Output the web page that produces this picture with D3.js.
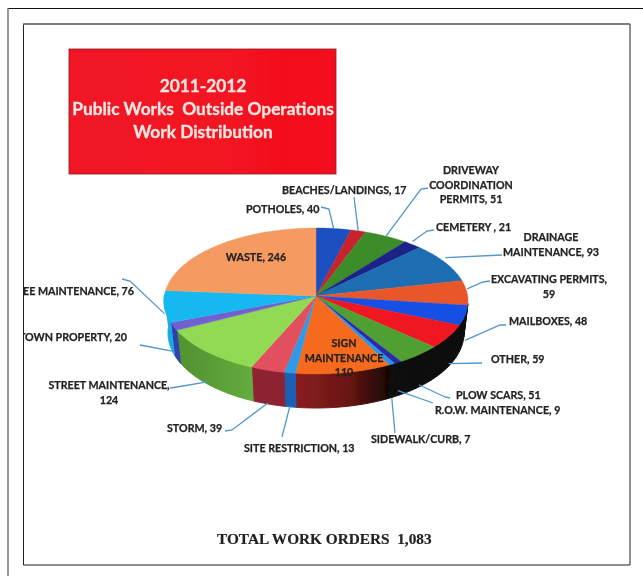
<!DOCTYPE html>
<html>
<head>
<meta charset="utf-8">
<script src="https://cdn.jsdelivr.net/npm/d3@7"></script>
<style>
  html, body { margin: 0; padding: 0; background: #fff; }
  svg { display: block; }
  .lbl { font-family: Lato, "Open Sans", sans-serif; font-weight: 700; font-size: 10.7px; fill: #222; stroke: #222; stroke-width: 0.25px; }
  .title { font-family: Lato, "Open Sans", sans-serif; font-weight: 700; font-size: 17.3px; fill: #f7e6e0; stroke: #f7e6e0; stroke-width: 0.3px; text-anchor: middle; }
  .total { font-family: "Liberation Serif", serif; font-weight: 700; font-size: 15.3px; fill: #222; stroke: #222; stroke-width: 0.2px; }
</style>
</head>
<body>
<script>
// Chart data
var categories = ["POTHOLES", "BEACHES/LANDINGS", "DRIVEWAY COORDINATION PERMITS", "CEMETERY",
  "DRAINAGE MAINTENANCE", "EXCAVATING PERMITS", "MAILBOXES", "OTHER", "PLOW SCARS", "R.O.W. MAINTENANCE",
  "SIDEWALK/CURB", "SIGN MAINTENANCE", "SITE RESTRICTION", "STORM", "STREET MAINTENANCE", "TOWN PROPERTY",
  "TREE MAINTENANCE", "WASTE"];
var workOrders = [40, 17, 51, 21, 93, 59, 48, 59, 51, 9, 7, 110, 13, 39, 124, 20, 76, 246];
var titleLines = ["2011-2012", "Public Works  Outside Operations", "Work Distribution"];
var totalText = "TOTAL WORK ORDERS  1,083";

// Slice colours, top face then side wall
var topColors = ["#1d4fc0", "#c8202c", "#3c8c2c", "#1c2488", "#1f6db2", "#e8562c", "#1450e4", "#f01420",
  "#4f9f30", "#2a2aa8", "#2c94e4", "#f56a1c", "#2f9be8", "#e2505e", "#92da52", "#7060d2", "#18b8f2", "#f59a60"];
var sideColors = ["#000", "#000", "#000", "#000", "#000", "#000", "#0c0c0c", "#0c0c0c",
  "#0a0a0a", "#0a0a0a", "#0a0a0a", "url(#signSide)", "#1f5fb4", "#8c2430", "url(#streetSide)", "#2f3fb0", "#1aa8e0", "#000"];

// Label placement: text lines, anchor, and the elbow of the leader line ([] = no leader)
var labels = [
  { lines: ["POTHOLES, 40"], x: 246, y: 209, anchor: "start", elbow: [[321, 207], [329, 209]], drop: 0 },
  { lines: ["BEACHES/LANDINGS, 17"], x: 282, y: 190, anchor: "start", elbow: [[354, 197]], drop: 0 },
  { lines: ["DRIVEWAY", "COORDINATION", "PERMITS, 51"], x: 471, y: 170, anchor: "middle", elbow: [[428, 188], [421, 189]], drop: 0 },
  { lines: ["CEMETERY , 21"], x: 436, y: 227, anchor: "start", elbow: [[434, 230], [427, 231]], drop: -3 },
  { lines: ["DRAINAGE", "MAINTENANCE, 93"], x: 551, y: 237, anchor: "middle", elbow: [[502, 255]], drop: -5 },
  { lines: ["EXCAVATING PERMITS,", "59"], x: 549, y: 279, anchor: "middle", elbow: [[490, 281], [483, 282]], drop: -4 },
  { lines: ["MAILBOXES, 48"], x: 509, y: 321, anchor: "start", elbow: [[506, 325], [500, 325]], drop: 25 },
  { lines: ["OTHER, 59"], x: 491, y: 359, anchor: "start", elbow: [[482, 363]], drop: 27 },
  { lines: ["PLOW SCARS, 51"], x: 456, y: 395, anchor: "start", elbow: [[450, 398], [445, 397]], drop: 30 },
  { lines: ["R.O.W. MAINTENANCE, 9"], x: 435, y: 410, anchor: "start", elbow: [[433, 403]], drop: 28 },
  { lines: ["SIDEWALK/CURB, 7"], x: 371, y: 439, anchor: "start", elbow: [[395, 433]], drop: 34 },
  { lines: ["SIGN", "MAINTENANCE", "110"], x: 344, y: 343, anchor: "middle", elbow: [], drop: 0 },
  { lines: ["SITE RESTRICTION, 13"], x: 244, y: 448, anchor: "start", elbow: [[282, 437]], drop: 34 },
  { lines: ["STORM, 39"], x: 167, y: 428, anchor: "start", elbow: [[225, 431], [232, 430]], drop: 33 },
  { lines: ["STREET MAINTENANCE,", "124"], x: 109, y: 385, anchor: "middle", elbow: [[170, 388], [177, 387]], drop: 30 },
  { lines: ["TOWN PROPERTY, 20"], x: 127, y: 337, anchor: "end", elbow: [[140, 345]], drop: 25 },
  { lines: ["TREE MAINTENANCE, 76"], x: 134, y: 291, anchor: "end", elbow: [[122, 279], [130, 281]], drop: 7 },
  { lines: ["WASTE, 246"], x: 256, y: 257, anchor: "middle", elbow: [], drop: 0 }
];

// Define SVG area dimensions
var svgWidth = 643;
var svgHeight = 576;
var hub = { x: 316, y: 296 };

var svg = d3.select("body").append("svg")
  .attr("width", svgWidth)
  .attr("height", svgHeight);

var defs = svg.append("defs");

// The scan is soft, so blur everything a touch
defs.append("filter").attr("id", "soft")
  .attr("x", 0).attr("y", 0).attr("width", 1).attr("height", 1)
  .append("feGaussianBlur").attr("stdDeviation", 0.45);

function hGradient(id, x1, x2, stops) {
  var g = defs.append("linearGradient").attr("id", id)
    .attr("gradientUnits", "userSpaceOnUse")
    .attr("x1", x1).attr("x2", x2).attr("y1", 0).attr("y2", 0);
  stops.forEach(function(s) {
    g.append("stop").attr("offset", s[0]).attr("stop-color", s[1]);
  });
}
hGradient("signSide", 295, 392, [[0, "#8a1f20"], [0.55, "#6a1512"], [1, "#120403"]]);
hGradient("streetSide", 172, 250, [[0, "#4f8f30"], [1, "#63ab3c"]]);
hGradient("boxFill", 69, 336, [[0, "#f01528"], [1, "#f4101c"]]);

defs.append("clipPath").attr("id", "page").append("rect")
  .attr("x", 24).attr("y", 24).attr("width", 606).attr("height", 541);

// Page frames
var frames = svg.append("g");
frames.append("line").attr("x1", 8).attr("x2", svgWidth).attr("y1", 8.5).attr("y2", 8.5)
  .attr("stroke", "#111").attr("stroke-width", 1);
frames.append("line").attr("x1", 8).attr("x2", 8).attr("y1", 8).attr("y2", svgHeight)
  .attr("stroke", "#777").attr("stroke-width", 1.5);
frames.append("path").attr("d", "M23.5,24H630V565H23.5Z").attr("fill", "none").attr("stroke", "#222").attr("stroke-width", 1);
frames.append("line").attr("x1", 23).attr("x2", 630).attr("y1", 24).attr("y2", 24)
  .attr("stroke", "#777").attr("stroke-width", 1.5);

var chart = svg.append("g").attr("clip-path", "url(#page)").append("g").attr("filter", "url(#soft)");
chart.append("rect").attr("x", 0).attr("y", 0).attr("width", svgWidth).attr("height", svgHeight).attr("fill", "#fff").attr("fill-opacity", 0);

// Title box
chart.append("rect")
  .attr("x", 69).attr("y", 49).attr("width", 267).attr("height", 125)
  .attr("fill", "url(#boxFill)").attr("stroke", "#8a1a1a").attr("stroke-width", 0.8);
chart.selectAll(".title").data(titleLines).enter().append("text")
  .attr("class", "title")
  .attr("x", 203)
  .attr("y", function(d, i) { return 92 + i * 23; })
  .style("white-space", "pre")
  .text(function(d) { return d; });

// Unit-circle coordinates to the page, top face and bottom rim of the tilted disc
var xTop = d3.scaleLinear().domain([-1, 1]).range([164, 468]);
var yTop = d3.scaleLinear().domain([-1, 1]).range([374, 228]);
var xBottom = d3.scaleLinear().domain([-1, 1]).range([168, 464]);
var yBottom = d3.scaleLinear().domain([-1, 1]).range([408, 258]);

var pie = d3.pie().sort(null).value(function(d) { return d; });
var slices = pie(workOrders);
var color = d3.scaleOrdinal().domain(categories).range(topColors);
var sideColor = d3.scaleOrdinal().domain(categories).range(sideColors);

function angleSteps(a0, a1) {
  var n = Math.max(2, Math.ceil((a1 - a0) / 0.02));
  return d3.range(n + 1).map(function(i) { return a0 + (a1 - a0) * i / n; });
}
function topPoint(a) { return [xTop(Math.sin(a)), yTop(Math.cos(a))]; }
function bottomPoint(a) { return [xBottom(Math.sin(a)), yBottom(Math.cos(a))]; }

var line = d3.line();

// Side walls, only the part of the rim that faces the viewer
var wallFrom = 92 * Math.PI / 180;
var wallTo = 275 * Math.PI / 180;
chart.append("g").selectAll("path")
  .data(slices.filter(function(s) { return s.endAngle > wallFrom && s.startAngle < wallTo; }))
  .enter().append("path")
  .attr("d", function(s) {
    var steps = angleSteps(Math.max(s.startAngle, wallFrom), Math.min(s.endAngle, wallTo));
    return line(steps.map(topPoint).concat(steps.slice().reverse().map(bottomPoint))) + "Z";
  })
  .attr("fill", function(s) { return sideColor(categories[s.index]); })
  .attr("stroke", function(s) { return sideColor(categories[s.index]); })
  .attr("stroke-width", 1);

// Top face
chart.append("g").selectAll("path")
  .data(slices)
  .enter().append("path")
  .attr("d", function(s) {
    return line([[hub.x, hub.y]].concat(angleSteps(s.startAngle, s.endAngle).map(topPoint))) + "Z";
  })
  .attr("fill", function(s) { return color(categories[s.index]); })
  .attr("stroke", function(s) { return color(categories[s.index]); })
  .attr("stroke-width", 0.4);

// Leader lines, from the middle of each slice's rim out to its label
chart.append("g").selectAll("path")
  .data(slices.filter(function(s) { return labels[s.index].elbow.length > 0; }))
  .enter().append("path")
  .attr("d", function(s) {
    var l = labels[s.index];
    var p = topPoint((s.startAngle + s.endAngle) / 2);
    return line(l.elbow.concat([[p[0], p[1] + l.drop]]));
  })
  .attr("fill", "none")
  .attr("stroke", "#4f97cc")
  .attr("stroke-width", 1.3);

// Labels
var labelGroups = chart.append("g").selectAll("text")
  .data(labels)
  .enter().append("text")
  .attr("class", "lbl")
  .attr("text-anchor", function(d) { return d.anchor; });
labelGroups.selectAll("tspan")
  .data(function(d) { return d.lines.map(function(t, i) { return { t: t, i: i, x: d.x, y: d.y }; }); })
  .enter().append("tspan")
  .attr("x", function(d) { return d.x; })
  .attr("y", function(d) { return d.y + d.i * 14.6 + 4; })
  .text(function(d) { return d.t; });

// Total
chart.append("text")
  .attr("class", "total")
  .attr("x", 217)
  .attr("y", 544)
  .style("white-space", "pre")
  .text(totalText);
</script>
</body>
</html>
